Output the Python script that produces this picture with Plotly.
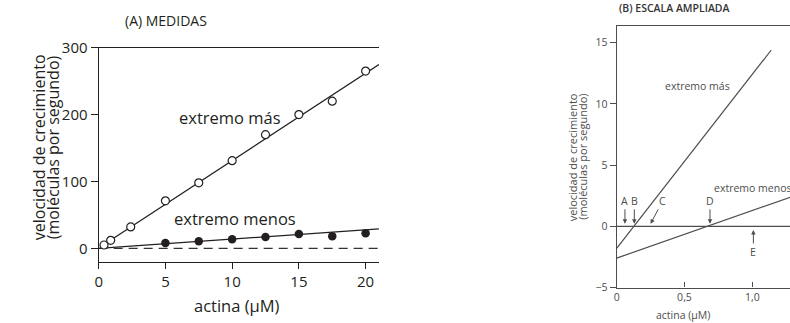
import plotly.graph_objects as go

# ---------------- data ----------------
# Panel A: measured growth rates
conc_mas = [0.4, 0.9, 2.4, 5, 7.5, 10, 12.5, 15, 17.5, 20]
rate_mas = [5, 12, 32, 71, 98, 131, 170, 200, 220, 265]
conc_menos = [5, 7.5, 10, 12.5, 15, 17.5, 20]
rate_menos = [8, 10.5, 13.5, 17, 21.5, 18, 22.5]
fit_mas_x = [0.2, 21]
fit_mas_y = [3, 275]
fit_menos_x = [0, 21]
fit_menos_y = [0, 29]
zero_x = [0, 21]
zero_y = [0, 0]

# Panel B: expanded scale
b_mas_x = [0, 1.14]
b_mas_y = [-1.8, 14.4]
b_menos_x = [0, 1.3]
b_menos_y = [-2.6, 2.45]
b_zero_x = [0, 1.3]
b_zero_y = [0, 0]
arrow_labels = ["A", "B", "C", "D", "E"]
arrow_x = [0.061, 0.13, 0.25, 0.688, 1.008]
arrow_y = [0.2, 0.2, 0.2, 0.2, -0.3]

a_xticks = [0, 5, 10, 15, 20]
a_yticks = [0, 100, 200, 300]
b_xticks = [0, 0.5, 1.0]
b_xticktext = ["0", "0,5", "1,0"]
b_yticks = [-5, 0, 5, 10, 15]
b_yticktext = ["\u22125", "0", "5", "10", "15"]

FONT = "Open Sans"
CA = "#231f20"
CB = "#4d4d4d"

fig = go.Figure()

# ---- Panel A traces ----
fig.add_trace(go.Scatter(x=zero_x, y=zero_y, mode="lines",
                         line=dict(color="#333333", width=1.2, dash="9px,6px"),
                         xaxis="x", yaxis="y", showlegend=False))
fig.add_trace(go.Scatter(x=fit_mas_x, y=fit_mas_y, mode="lines",
                         line=dict(color=CA, width=1.3), xaxis="x", yaxis="y", showlegend=False))
fig.add_trace(go.Scatter(x=fit_menos_x, y=fit_menos_y, mode="lines",
                         line=dict(color=CA, width=1.3), xaxis="x", yaxis="y", showlegend=False))
fig.add_trace(go.Scatter(x=conc_mas, y=rate_mas, mode="markers",
                         marker=dict(symbol="circle", size=8, color="white",
                                     line=dict(color=CA, width=1.2)),
                         xaxis="x", yaxis="y", showlegend=False))
fig.add_trace(go.Scatter(x=conc_menos, y=rate_menos, mode="markers",
                         marker=dict(symbol="circle", size=8.5, color=CA,
                                     line=dict(color=CA, width=0)),
                         xaxis="x", yaxis="y", showlegend=False))

# ---- Panel B traces ----
fig.add_trace(go.Scatter(x=b_zero_x, y=b_zero_y, mode="lines",
                         line=dict(color=CB, width=1.3), xaxis="x2", yaxis="y2", showlegend=False))
fig.add_trace(go.Scatter(x=b_mas_x, y=b_mas_y, mode="lines",
                         line=dict(color=CB, width=1.2), xaxis="x2", yaxis="y2", showlegend=False))
fig.add_trace(go.Scatter(x=b_menos_x, y=b_menos_y, mode="lines",
                         line=dict(color=CB, width=1.2), xaxis="x2", yaxis="y2", showlegend=False))

annotations = [
    # Panel A
    dict(text="(A) MEDIDAS", xref="paper", yref="paper", x=0.1557, y=0.938,
         xanchor="left", yanchor="middle", showarrow=False, font=dict(size=14, color=CA)),
    dict(text="actina (\u03bcM)", xref="paper", yref="paper", x=0.300, y=0.0557,
         xanchor="center", yanchor="middle", showarrow=False, font=dict(size=16.5, color=CA)),
    dict(text="velocidad de crecimiento", xref="paper", yref="paper", x=0.0497, y=0.545,
         textangle=-90, xanchor="center", yanchor="middle", showarrow=False,
         font=dict(size=16, color=CA)),
    dict(text="(moléculas por segundo)", xref="paper", yref="paper", x=0.0675, y=0.545,
         textangle=-90, xanchor="center", yanchor="middle", showarrow=False,
         font=dict(size=16, color=CA)),
    dict(text="extremo más", xref="x", yref="y", x=9.84, y=195, showarrow=False,
         xanchor="center", yanchor="middle", font=dict(size=16.5, color=CA)),
    dict(text="extremo menos", xref="x", yref="y", x=10.2, y=44, showarrow=False,
         xanchor="center", yanchor="middle", font=dict(size=16.5, color=CA)),
    # Panel B
    dict(text="(B) ESCALA AMPLIADA", xref="paper", yref="paper", x=0.781, y=0.975,
         xanchor="left", yanchor="middle", showarrow=False,
         font=dict(size=10.5, color="#333333", weight=600)),
    dict(text="actina (\u03bcM)", xref="paper", yref="paper", x=0.8646, y=0.0248,
         xanchor="center", yanchor="middle", showarrow=False, font=dict(size=10.5, color=CB)),
    dict(text="velocidad de crecimiento", xref="paper", yref="paper", x=0.7257, y=0.514,
         textangle=-90, xanchor="center", yanchor="middle", showarrow=False,
         font=dict(size=11, color=CB)),
    dict(text="(moléculas por segundo)", xref="paper", yref="paper", x=0.7376, y=0.514,
         textangle=-90, xanchor="center", yanchor="middle", showarrow=False,
         font=dict(size=11, color=CB)),
    dict(text="extremo más", xref="x2", yref="y2", x=0.848, y=11.5, showarrow=False,
         xanchor="right", yanchor="middle", font=dict(size=10.5, color=CB)),
    dict(text="extremo menos", xref="x2", yref="y2", x=0.70, y=3.1, showarrow=False,
         xanchor="left", yanchor="middle", font=dict(size=10.5, color=CB)),
]

offsets = {"A": (0, -23), "B": (0, -23), "C": (12, -23), "D": (0, -23), "E": (0, 22)}
for lab, xv, yv in zip(arrow_labels, arrow_x, arrow_y):
    ax, ay = offsets[lab]
    annotations.append(dict(text=lab, xref="x2", yref="y2", x=xv, y=yv,
                            ax=ax, ay=ay, showarrow=True, arrowhead=2, arrowsize=0.9,
                            arrowwidth=1, arrowcolor=CB, standoff=0,
                            font=dict(size=10.5, color=CB)))

axis_common = dict(showgrid=False, zeroline=False, showline=True, ticks="outside",
                   automargin=False)

fig.update_layout(
    template="none",
    width=790, height=323, autosize=False,
    margin=dict(l=0, r=0, t=0, b=0, pad=0, autoexpand=False),
    paper_bgcolor="white", plot_bgcolor="white",
    font=dict(family=FONT, color=CA),
    showlegend=False,
    hovermode=False,
    xaxis=dict(**axis_common, domain=[0.1249, 0.4797], range=[0, 21], anchor="y",
               tickvals=a_xticks, linecolor=CA, linewidth=1.2, tickcolor=CA, ticklen=6,
               tickwidth=1.2, mirror=True, tickfont=dict(size=15, color=CA)),
    yaxis=dict(**axis_common, domain=[0.1898, 0.8523], range=[-20, 300], anchor="x",
               tickvals=a_yticks, linecolor=CA, linewidth=1.2, tickcolor=CA, ticklen=7,
               tickwidth=1.2, tickfont=dict(size=15, color=CA)),
    xaxis2=dict(showgrid=False, zeroline=False, showline=True, ticks="inside",
                automargin=False,
                domain=[0.7806, 1.0], range=[0, 1.278], anchor="y2",
                tickvals=b_xticks, ticktext=b_xticktext, linecolor=CB, linewidth=1.2,
                tickcolor=CB, ticklen=5, mirror=True, tickfont=dict(size=10.5, color=CB)),
    yaxis2=dict(**axis_common, domain=[0.1099, 0.9195], range=[-5, 16.36], anchor="x2",
                tickvals=b_yticks, ticktext=b_yticktext, linecolor=CB, linewidth=1.2,
                tickcolor=CB, ticklen=6, tickfont=dict(size=10.5, color=CB)),
    annotations=annotations,
)

fig.write_html("out.html",
               config={"displayModeBar": False},
               post_script="document.body.style.margin='0';document.body.style.overflow='hidden';")
